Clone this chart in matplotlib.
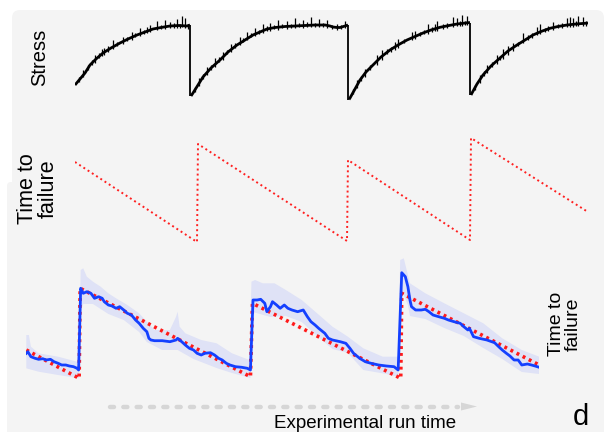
import numpy as np
import matplotlib
matplotlib.use("Agg")
import matplotlib.pyplot as plt
from matplotlib.patches import FancyBboxPatch, Polygon
from matplotlib.lines import Line2D
from matplotlib.transforms import IdentityTransform

plt.rcParams['font.family'] = ['Liberation Sans', 'DejaVu Sans']

nan = np.nan

# stress record (top panel): smoothed trace per slip cycle, time in s
stress_t = [0, 5, 10, 15, 21, 28, 36, 45, 53, 62, 70, 78, 86, 95, 104, 112, 115, nan,
            116, 118, 123, 128, 136, 145, 153, 162, 170, 178, 185, 192, 200, 210, 220, 230,
            240, 250, 255, 258, 262, 265, 270, 273, nan,
            274, 275, 280, 285, 291, 298, 306, 315, 323, 332, 340, 348, 356, 365, 374, 382,
            388, 393, 395, nan,
            396, 397, 402, 408, 416, 425, 433, 442, 450, 458, 466, 475, 483, 492, 501, 510, 513]
stress = [15, 21, 27, 35, 41, 47, 52, 57, 61, 65, 68, 71, 72.5, 74, 74.5, 74, 75, nan,
          4, 7, 15, 23, 32, 40, 48, 55, 60, 65, 68, 71, 72.5, 73.5, 74, 74.5,
          75, 75, 74, 73, 72.5, 72.5, 74, 75, nan,
          0.5, 2, 11, 20, 28, 35, 43, 50, 55, 60, 63.5, 67, 70, 72.7, 74.5, 76,
          76.7, 77.3, 77.5, nan,
          5, 7, 16, 25, 34, 42, 49, 55, 60, 65, 68.5, 71.7, 73.5, 75, 76, 76.7, 77]

# sudden stress drops (slip events)
drop_t = [115.2, 273.3, 395.3]
drop_hi = [75, 75, 77.5]
drop_lo = [4, 0.5, 5]

# high-frequency fluctuations on the stress record
spike_t = [8, 20, 27, 29, 38, 48, 57, 65, 75, 82, 90, 95, 102, 107, 110,
           4, 13, 17, 24, 33, 42, 52, 60, 69, 72, 86, 99, 105, 113,
           124, 132, 140, 148, 156, 165, 172, 180, 188, 195, 203, 212, 220, 228, 236, 244,
           252, 262, 270,
           120, 128, 136, 144, 152, 160, 168, 176, 184, 192, 199, 207, 216, 224, 232, 240,
           248, 257, 266,
           282, 290, 302, 307, 320, 323, 337, 340, 353, 360, 362, 378, 382, 387, 392,
           278, 286, 295, 312, 316, 329, 345, 349, 357, 368, 372, 385, 390,
           405, 412, 422, 428, 433, 438, 448, 462, 465, 478, 492, 495, 498, 503, 508,
           400, 409, 417, 425, 443, 453, 457, 470, 473, 483, 487, 501, 511]
spike_lo = [23, 37, 44, 45, 51, 56, 60, 64, 68, 70, 71, 72, 72, 73, 72,
            18, 30, 35, 42, 48, 54, 59, 63, 66, 67, 71, 72, 72, 71,
            14, 25, 33, 40, 48, 55, 60, 64, 67, 69, 70, 71, 72, 72, 73, 73,
            72, 70, 72,
            8, 21, 30, 38, 46, 52, 58, 63, 66, 69, 71, 72, 72, 73, 73, 73,
            73, 71, 71,
            12, 23, 35, 40, 50, 52, 60, 61, 66, 69, 69, 73, 74, 74, 75,
            6, 19, 30, 46, 48, 57, 64, 66, 68, 71, 72, 74, 75,
            17, 27, 36, 41, 45, 49, 57, 65, 66, 70, 73, 73, 73, 74, 74,
            10, 24, 33, 40, 54, 60, 62, 68, 69, 72, 72, 74, 74]
spike_hi = [30, 45, 51, 52, 60, 63, 68, 72, 75, 79, 80, 78, 81, 84, 82,
            23, 35, 40, 47, 54, 58, 63, 67, 70, 73, 75, 77, 76, 76,
            22, 33, 42, 48, 56, 63, 68, 72, 76, 77, 80, 79, 82, 80, 83, 81,
            80, 76, 79,
            13, 26, 35, 43, 50, 57, 62, 67, 70, 74, 75, 76, 76, 77, 78, 77,
            77, 75, 75,
            20, 31, 45, 50, 58, 61, 68, 69, 76, 76, 79, 83, 82, 85, 84,
            11, 24, 35, 51, 53, 61, 68, 70, 73, 76, 77, 79, 79,
            25, 35, 45, 51, 54, 57, 67, 73, 76, 78, 82, 83, 82, 84, 83,
            15, 29, 38, 44, 58, 65, 67, 72, 74, 76, 77, 79, 79]

# true time to failure (middle panel)
ttf_t = [0, 122, 123, 272, 273, 395, 396, 513]
ttf = [83, 3, 101, 4, 85, 5, 107, 33]

# predicted vs. true time to failure (bottom panel), normalised run time
pred_t = [0, 0.3, 0.9, 1.7, 2.4, 3.2, 3.9, 4.7, 5.4, 6.2, 6.9, 7.7, 8.4, 9.2, 9.9, 10.2,
          10.6, 11.1, 11.8, 12.6, 13.3, 14.1, 14.8, 15.2, 16.0, 16.7, 17.5, 18.2, 19.0, 19.7,
          20.5, 21.3, 22.0, 22.8, 23.5, 23.9, 24.3, 25.0, 26.5, 28.0, 29.2, 29.5, 30.3, 31.0,
          31.8, 32.6, 33.3, 34.1, 34.8, 35.9, 36.7, 37.5, 38.2, 39.0, 39.7, 40.8, 42.0, 43.1, 43.7,
          44.2, 45.0, 45.7, 46.5, 46.9, 47.6, 48.0, 48.8, 49.5, 50.3, 51.0, 51.8, 52.9, 54.0,
          54.8, 55.5, 56.3, 57.0, 58.2, 58.9, 59.7, 61.2, 62.3, 63.1, 63.8, 65.0, 66.1, 67.2,
          68.7, 70.2, 71.7, 72.5,
          73.2, 73.9, 74.4, 74.8, 75.1, 75.9, 77.0, 77.8, 78.5, 79.3, 80.4, 81.5, 82.3, 83.4,
          84.6, 85.3, 86.1, 86.4, 87.2, 88.3, 89.8, 91.3, 92.1, 92.8, 93.6, 94.3, 95.1, 95.9,
          96.6, 97.7, 98.5, 99.2, 100]
pred = [26.7, 28.3, 23.3, 21.7, 20.7, 21.3, 20, 20.7, 18.3, 16.7, 15, 15, 14, 13.3, 11.7, 10,
        91.7, 86.7, 88.3, 86.7, 81.7, 83.3, 81.7, 78.3, 75, 74, 71.7, 73.3, 70, 66.7,
        65, 60, 56.7, 51.7, 48.3, 41.7, 40, 39.3, 39.3, 38.3, 40, 41.7, 38.3, 35,
        31.7, 30, 26.7, 25, 26.7, 27.3, 25, 21.7, 20, 16.7, 15, 13.3, 12.7, 11.7, 10,
        80, 80, 80.7, 76.7, 68.3, 73.3, 78.3, 75, 71.7, 75, 71.7, 70, 68.3, 70,
        63.3, 58.3, 55, 51.7, 46.7, 41.7, 40, 38.3, 36.7, 31.7, 26.7, 21.7, 18.3, 16.7,
        15, 14, 13.3, 10,
        107.3, 103.3, 93.3, 80, 73.3, 70, 70, 70.7, 68.3, 65, 63.3, 61.7, 60, 58.3,
        56.7, 53.3, 50, 51.7, 43.3, 41.7, 40, 37.3, 33.3, 30, 26.7, 24, 20, 20,
        15, 16, 15, 14, 12.7]

true_t = [0, 10.3, 10.5, 43.7, 44.1, 73.0, 73.2, 100]
true_ttf = [30, 1.7, 91.7, 3.3, 76.7, 1.7, 86.7, 15]

# uncertainty band of the prediction
band_hi_t = [0, 0.5, 0.9, 2.4, 6.2, 9.9, 10.3, 10.6, 11.1, 11.8, 13.0, 14.5, 16.0, 17.5, 19.7,
             22.0, 23.5, 25.0, 28.0, 29.2, 29.5, 29.9, 31.0, 34.1, 37.1, 40.1, 43.5, 43.9,
             44.6, 46.1, 48.4, 50.6, 53.7, 56.7, 59.7, 62.7, 65.7, 69.5, 72.5, 72.9, 73.6,
             74.8, 77.8, 81.5, 85.3, 89.1, 92.8, 96.6, 100]
band_hi = [45, 45, 33.3, 26.7, 23.3, 18.3, 18.3, 110, 111.7, 103.3, 98.3, 93.3, 86.7, 81.7, 75,
           66.7, 58.3, 50, 50, 63.3, 68.3, 53.3, 46.7, 40, 36.7, 26.7, 20, 98.3,
           100, 96.7, 96.7, 90, 80, 66.7, 53.3, 43.3, 31.7, 23.3, 23.3, 120, 121.7,
           96.7, 86.7, 76.7, 66.7, 56.7, 41.7, 30, 23.3]
band_lo_t = [0, 2.4, 6.2, 10.3, 10.7, 11.1, 13.0, 16.0, 19.0, 22.0, 23.5, 26.5, 29.5, 32.6,
             37.1, 40.1, 43.7, 44.2, 47.6, 50.6, 53.7, 56.7, 59.7, 62.7, 65.7, 70.2, 72.5,
             73.2, 74.4, 74.8, 77.8, 81.5, 85.3, 89.1, 92.8, 96.6, 100]
band_lo = [11.7, 8.3, 5, 1.7, 70, 76, 76, 66, 60, 48, 38, 30, 30, 21,
           12, 7, 2, 68, 63, 64, 58, 44, 31, 27, 10, 6, 3,
           90, 75, 64, 61, 52, 44, 32, 21, 8, 6]

W, H = 606, 432
fig = plt.figure(figsize=(W / 100, H / 100), dpi=100)
fig.patch.set_facecolor('white')

# light grey panels behind the plots (pixel coords, origin bottom-left)
bg = '#f4f4f4'
fig.patches.append(FancyBboxPatch((12, H - 248), 592, 238, boxstyle='round,pad=0,rounding_size=8',
                                  transform=IdentityTransform(), fc=bg, ec='none', zorder=-10))
fig.patches.append(FancyBboxPatch((7, -10), 597, 260, boxstyle='round,pad=0,rounding_size=4',
                                  transform=IdentityTransform(), fc=bg, ec='none', zorder=-10))


def px_axes(left, top, width, height):
    ax = fig.add_axes([left / W, 1 - (top + height) / H, width / W, height / H])
    ax.set_facecolor('none')
    ax.axis('off')
    ax.set_zorder(2)
    return ax


ax1 = px_axes(75, 5, 513, 100)
ax1.plot(stress_t, stress, color='black', lw=2.0, solid_capstyle='butt')
ax1.vlines(drop_t, drop_lo, drop_hi, color='black', lw=1.3)
ax1.vlines(spike_t, spike_lo, spike_hi, color='black', lw=0.9)
ax1.set_xlim(0, 513)
ax1.set_ylim(-5, 95)

ax2 = px_axes(75, 130, 513, 120)
ax2.plot(ttf_t, ttf, color='#ff2020', lw=1.4, linestyle=(0, (1, 1.6)))
ax2.set_xlim(0, 513)
ax2.set_ylim(-5, 115)

ax3 = px_axes(26.3, 250, 512.9, 140)
band_x = band_hi_t + band_lo_t[::-1]
band_y = band_hi + band_lo[::-1]
ax3.fill(band_x, band_y, color='#dfe2f6', lw=0)
ax3.plot(true_t, true_ttf, color='#ff1a1a', lw=2.6, linestyle=(0, (0.8, 1.1)), zorder=3)
ax3.plot(pred_t, pred, color='#1440ff', lw=2.0, zorder=4)
ax3.set_xlim(0, 100)
ax3.set_ylim(-10, 130)

# labels
fig.text(40 / W, 1 - 57 / H, 'Stress', rotation=90, ha='center', va='center', fontsize=14.5)
fig.text(38 / W, 1 - 189 / H, 'Time to\nfailure', rotation=90, ha='center', va='center',
         fontsize=15.5, linespacing=1.02)
fig.text(565 / W, 1 - 324 / H, 'Time to\nfailure', rotation=90, ha='center', va='center',
         fontsize=14, linespacing=1.02)
fig.text(365 / W, 1 - 424 / H, 'Experimental run time', ha='center', va='center', fontsize=13.5)
fig.text(581 / W, 1 - 417 / H, 'd', ha='center', va='center', fontsize=21)

# grey dashed arrow
fig.lines.append(Line2D([110, 458], [H - 406.5, H - 406.5], transform=IdentityTransform(),
                        color='#d6d6d6', lw=3.2, dashes=(0.9, 2.1), dash_capstyle='round'))
fig.patches.append(Polygon([[461, H - 402.5], [477, H - 406.5], [461, H - 410.5]], closed=True,
                           transform=IdentityTransform(), fc='#d6d6d6', ec='none'))

fig.savefig('out.png', dpi=100)
